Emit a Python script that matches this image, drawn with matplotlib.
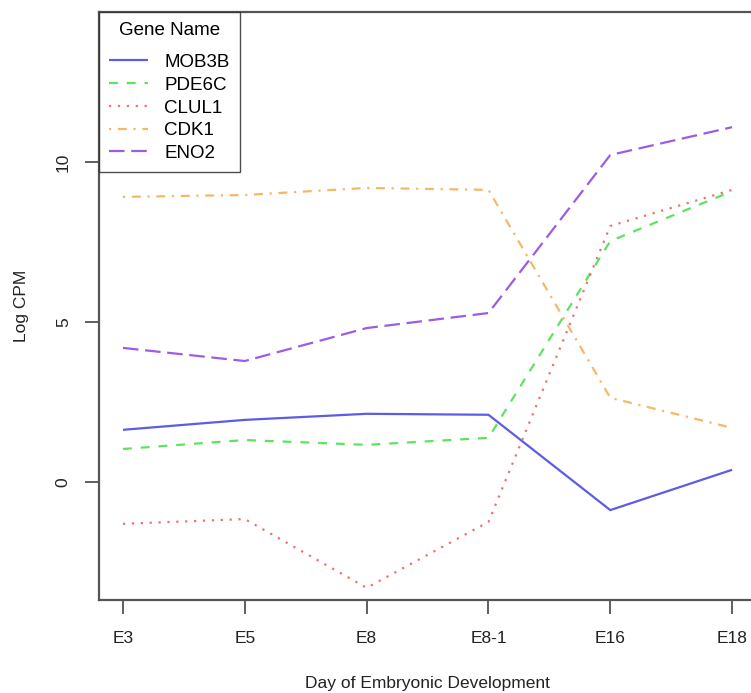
import matplotlib
matplotlib.use("Agg")
import matplotlib.pyplot as plt

# Dados
dias = ['E3', 'E5', 'E8', 'E8-1', 'E16', 'E18']
genes = ['MOB3B', 'PDE6C', 'CLUL1', 'CDK1', 'ENO2']
mob3b = [1.63, 1.94, 2.13, 2.10, -0.88, 0.38]
pde6c = [1.03, 1.31, 1.16, 1.38, 7.53, 9.09]
clul1 = [-1.31, -1.16, -3.31, -1.25, 8.00, 9.13]
cdk1 = [8.91, 8.97, 9.19, 9.13, 2.63, 1.69]
eno2 = [4.19, 3.78, 4.81, 5.28, 10.22, 11.09]

series = [mob3b, pde6c, clul1, cdk1, eno2]
cores = ['#5c5ce6', '#5fe35f', '#f07070', '#f5b865', '#9b5de5']
estilos = [(0, ()), (0, (4, 4)), (0, (1, 3)), (0, (1, 3, 4, 3)), (0, (7, 3))]

plt.rcParams['font.family'] = ['Liberation Sans', 'DejaVu Sans']

fig = plt.figure(figsize=(7.51, 6.93), dpi=100)
# eixo vai além da borda direita, como no original
ax = fig.add_axes([0.1313, 0.1342, 0.876, 0.8485])

x = range(1, len(dias) + 1)
for vals, nome, cor, ls in zip(series, genes, cores, estilos):
    ax.plot(x, vals, color=cor, linestyle=ls, linewidth=1.6, label=nome)

ax.set_xlim(0.8, 6.2)
ax.set_ylim(-3.69, 14.69)
ax.set_xticks(list(x))
ax.set_xticklabels(dias)
ax.set_yticks([0, 5, 10])
ax.set_yticklabels(['0', '5', '10'], rotation=90, va='center')

for s in ax.spines.values():
    s.set_color('#555555')
    s.set_linewidth(1.6)

ax.tick_params(axis='both', length=10, width=1.2, color='#444444',
               labelsize=12.5, labelcolor='#222222')
ax.tick_params(axis='x', pad=12)
ax.tick_params(axis='y', pad=10)

ax.set_xlabel('Day of Embryonic Development', fontsize=12.5, labelpad=22, color='#222222')
ax.set_ylabel('Log CPM', fontsize=12.5, labelpad=19, color='#222222')

leg = ax.legend(title='Gene Name', loc='upper left', fontsize=13.5, title_fontsize=13.5,
                frameon=True, fancybox=False, borderaxespad=0, handlelength=2.1,
                handletextpad=0.85, labelspacing=0.3, borderpad=0.55)
leg._legend_box.sep = 10.5  # espaço extra entre título e itens
leg.get_frame().set_edgecolor('#222222')
leg.get_frame().set_linewidth(1.0)

fig.savefig('out.png', dpi=100)
